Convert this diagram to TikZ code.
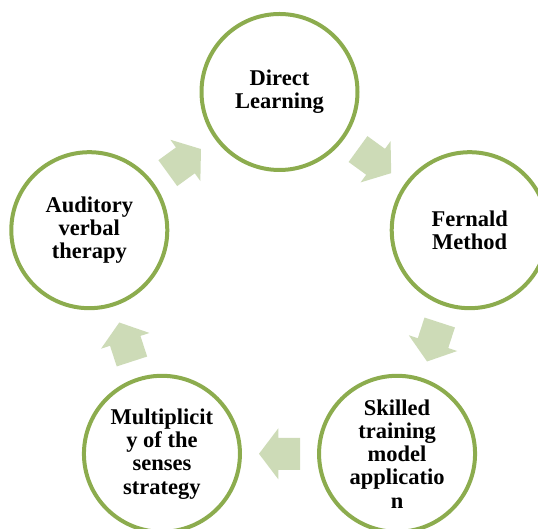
\documentclass[tikz,border=0pt]{standalone}
\usepackage{fontspec}
\setmainfont{Liberation Serif}
\usetikzlibrary{calc}

\definecolor{ringgreen}{RGB}{140,172,78}
\definecolor{arrowgreen}{RGB}{205,219,183}

\tikzset{
  stage/.style={circle, draw=ringgreen, line width=4pt, minimum size=156pt,
    inner sep=0pt, align=center, text=black,
    font=\bfseries\fontsize{22.5}{23.3}\selectfont},
  cyclearrow/.pic={
    \fill[arrowgreen] (-20.5,-16) -- (1.2,-16) -- (1.2,-25.5) -- (20.5,0)
      -- (1.2,25.5) -- (1.2,16) -- (-20.5,16) -- cycle;
  }
}

\begin{document}
\begin{tikzpicture}[x=1pt,y=1pt]
  \useasboundingbox (0,0) rectangle (538,529);
  \clip (0,0) rectangle (538,529);
  \coordinate (ctr) at (279.5,237);

  % the five stages on a ring
  \node[stage] (dl) at ($(ctr)+(90:200)$) {Direct\\Learning};
  \node[stage] (fm) at ($(ctr)+(18:200)$) {Fernald\\Method};
  \node[stage] (st) at ($(ctr)+(-54:200)$) {Skilled\\training\\model\\applicatio\\n};
  \node[stage] (ms) at ($(ctr)+(-126:200)$) {Multiplicit\\y of the\\senses\\strategy};
  \node[stage] (av) at ($(ctr)+(162:200)$) {Auditory\\verbal\\therapy};

  % block arrows halfway between the stages
  \pic[rotate=-36] at ($(dl)!0.5!(fm)$) {cyclearrow};
  \pic[rotate=-108] at ($(fm)!0.5!(st)$) {cyclearrow};
  \pic[rotate=180] at ($(st)!0.5!(ms)$) {cyclearrow};
  \pic[rotate=108] at ($(ms)!0.5!(av)$) {cyclearrow};
  \pic[rotate=36] at ($(av)!0.5!(dl)$) {cyclearrow};
\end{tikzpicture}
\end{document}
